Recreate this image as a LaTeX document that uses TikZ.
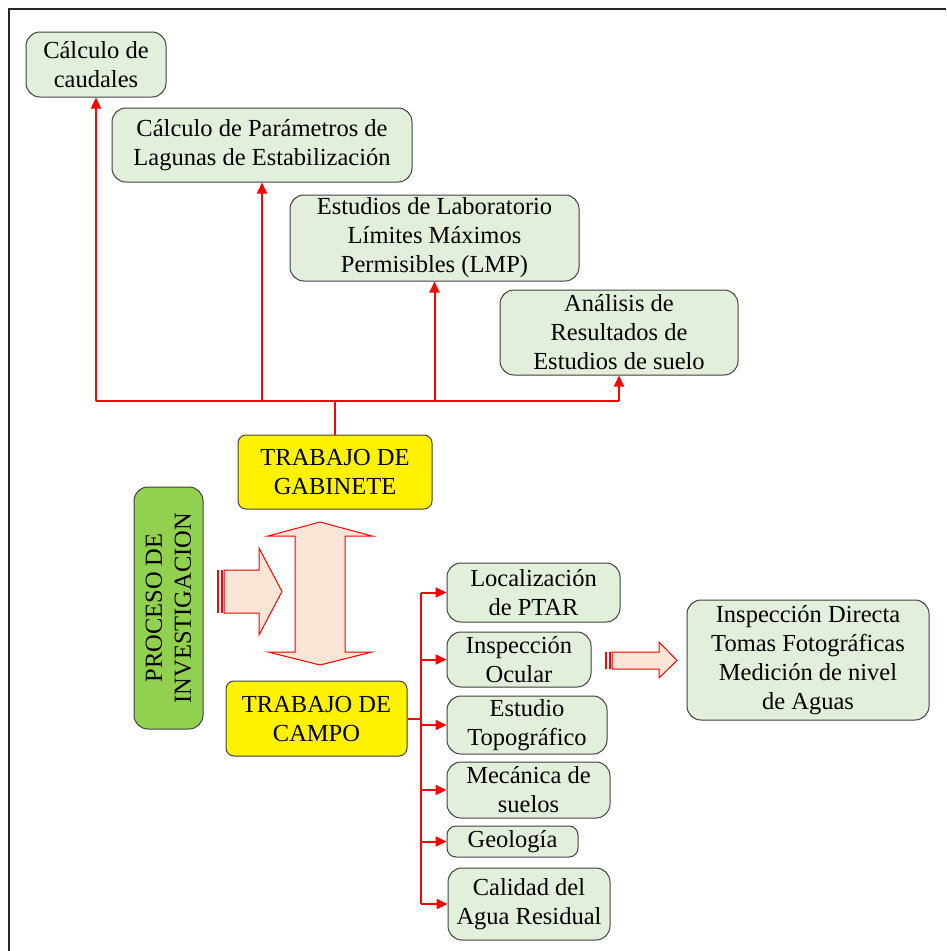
\documentclass[tikz,border=0pt]{standalone}
\usepackage{fontspec}
\setmainfont{Liberation Serif}
\usetikzlibrary{arrows.meta}
\definecolor{boxgreen}{HTML}{E2EFDA}
\definecolor{procgreen}{HTML}{92D050}
\definecolor{arrowpink}{HTML}{FBE5D6}
\tikzset{
  greenbox/.style={draw=black!75, fill=boxgreen, rounded corners=14pt, line width=1pt,
    align=center, inner sep=0pt, font=\fontsize{24.5}{29}\selectfont},
  yellowbox/.style={greenbox, fill=yellow, rounded corners=8pt},
  redline/.style={draw=red, line width=2pt},
  redarrow/.style={redline, -{Triangle[width=10pt,length=11pt]}},
  blockarrow/.style={draw=red, fill=arrowpink, line width=1pt, line join=miter}
}
\begin{document}
\begin{tikzpicture}[x=1pt,y=-1pt]
\useasboundingbox (0,0) rectangle (946,951);
\draw[line width=1.6pt, black!85] (9,951) -- (9,9) -- (946,9);

% trabajo de gabinete
\node[greenbox, minimum width=140pt, minimum height=65pt] (caudales) at (96,64.5) {C\'alculo de\\caudales};
\node[greenbox, minimum width=300pt, minimum height=74pt] (lagunas) at (262,145) {C\'alculo de Par\'ametros de\\Lagunas de Estabilizaci\'on};
\node[greenbox, minimum width=289pt, minimum height=86pt] (laboratorio) at (434.5,238) {Estudios de Laboratorio\\L\'imites M\'aximos\\Permisibles (LMP)};
\node[greenbox, minimum width=238pt, minimum height=85pt] (analisis) at (619,332.5) {An\'alisis de\\Resultados de\\Estudios de suelo};
\node[yellowbox, minimum width=194pt, minimum height=74pt] (gabinete) at (335,472) {TRABAJO DE\\GABINETE};

\coordinate (busY) at (0,401);
\draw[redline] (gabinete.north) -- (gabinete.north |- busY);
\draw[redline] (caudales.south |- busY) -- (analisis.south |- busY);
\foreach \n in {caudales, lagunas, laboratorio, analisis}
  \draw[redarrow] (\n.south |- busY) -- (\n.south);

% proceso
\node[greenbox, fill=procgreen, rotate=90, minimum width=242pt, minimum height=69pt] (proceso) at (168.5,608) {PROCESO DE\\INVESTIGACION};

\fill[red] (217,570) rectangle (219,613);
\fill[red] (220.5,570) rectangle (222.5,613);
\path[blockarrow] (224,570) -- (259,570) -- (259,548) -- (282,591.5) -- (259,635) -- (259,613) -- (224,613) -- cycle;

\path[blockarrow] (320,522) -- (372,536) -- (345,536) -- (345,652) -- (372,652) -- (320,665)
  -- (268,652) -- (295,652) -- (295,536) -- (268,536) -- cycle;

% trabajo de campo
\node[yellowbox, minimum width=181pt, minimum height=75pt] (campo) at (316.5,718.5) {TRABAJO DE\\CAMPO};
\node[greenbox, minimum width=173pt, minimum height=59pt] (localizacion) at (533.5,592.5) {Localizaci\'on\\de PTAR};
\node[greenbox, minimum width=144pt, minimum height=55pt] (ocular) at (519,659.5) {Inspecci\'on\\Ocular};
\node[greenbox, minimum width=160pt, minimum height=58pt] (topografico) at (527,725) {Estudio\\Topogr\'afico};
\node[greenbox, minimum width=163pt, minimum height=56pt] (mecanica) at (528.5,790) {Mec\'anica de\\suelos};
\node[greenbox, minimum width=131pt, minimum height=31pt, rounded corners=9pt] (geologia) at (512.5,841.5) {Geolog\'ia};
\node[greenbox, minimum width=162pt, minimum height=72pt] (calidad) at (529,904) {Calidad del\\Agua Residual};

\coordinate (campoX) at (421,0);
\draw[redline] (campo.east) -- (campo.east -| campoX);
\draw[redline] (campoX |- localizacion.west) -- (campoX |- calidad.west);
\foreach \n in {localizacion, ocular, topografico, mecanica, geologia, calidad}
  \draw[redarrow] (campoX |- \n.west) -- (\n.west);

% inspeccion ocular
\node[greenbox, minimum width=242pt, minimum height=120pt] (directa) at (808,660) {Inspecci\'on Directa\\Tomas Fotogr\'aficas\\Medici\'on de nivel\\de Aguas};
\fill[red] (605,652) rectangle (607,669);
\fill[red] (608.5,652) rectangle (610.5,669);
\path[blockarrow] (612,652) -- (659,652) -- (659,642) -- (677,660.5) -- (659,678) -- (659,669) -- (612,669) -- cycle;
\end{tikzpicture}
\end{document}
